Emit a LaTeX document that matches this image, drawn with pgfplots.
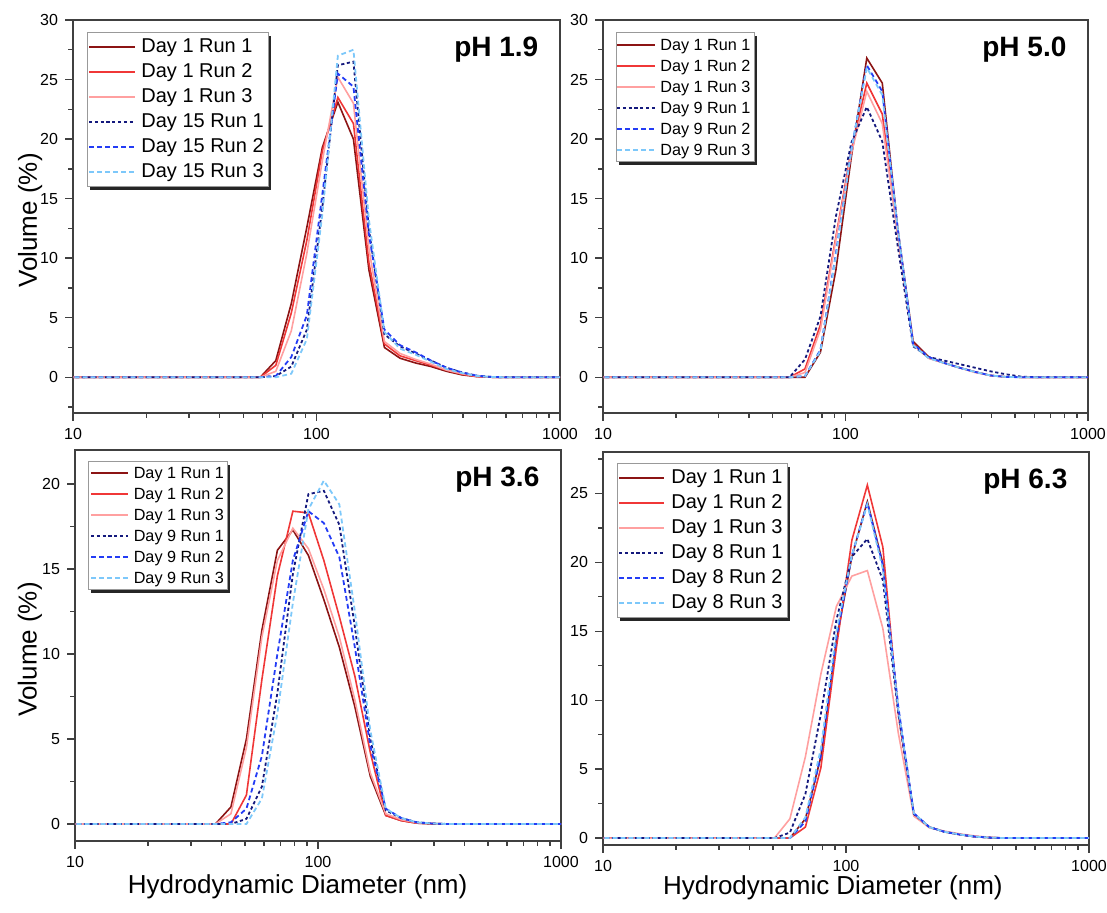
\documentclass[border=0pt]{standalone}
\usepackage{pgfplots}
\pgfplotsset{compat=1.18}
\usepackage{pgfplotstable}
\usepackage{fontspec}
\setmainfont{Liberation Sans}

\definecolor{dA}{RGB}{140,20,20}
\definecolor{dB}{RGB}{240,55,55}
\definecolor{dC}{RGB}{255,160,160}
\definecolor{bA}{RGB}{20,25,125}
\definecolor{bB}{RGB}{35,60,245}
\definecolor{bC}{RGB}{125,200,250}

% volume (%) per size bin (nm)
\pgfplotstableread{
d     a1   a2   a3   b1   b2   b3
8.721 0    0    0    0    0    0
10.10 0    0    0    0    0    0
13.54 0    0    0    0    0    0
18.17 0    0    0    0    0    0
24.36 0    0    0    0    0    0
32.67 0    0    0    0    0    0
43.82 0    0    0    0    0    0
50.75 0    0    0    0    0    0
58.77 0    0    0    0    0    0
68.06 1.4  1.0  0.5  0.1  0.1  0.0
78.82 6.2  5.4  3.9  0.9  1.7  0.3
91.28 12.6 11.5 10.4 4.0  5.2  3.2
105.7 19.3 19.0 18.2 14.3 15.4 13.7
122.4 23.1 23.5 25.2 26.2 25.5 27.0
141.8 20.0 21.3 23.0 26.5 24.4 27.5
164.2 9.0  9.6  10.8 12.4 12.0 13.2
190.1 2.5  2.8  3.0  3.6  4.0  3.8
220.2 1.6  1.8  2.0  2.6  2.7  2.4
255.0 1.2  1.4  1.5  2.0  2.1  1.9
295.3 0.9  1.0  1.1  1.4  1.4  1.3
342.0 0.5  0.6  0.6  0.8  0.8  0.7
396.1 0.2  0.25 0.3  0.4  0.4  0.35
458.7 0.05 0.05 0.08 0.12 0.12 0.1
531.2 0    0    0    0.02 0.02 0.02
615.1 0    0    0    0    0    0
825.0 0    0    0    0    0    0
1106  0    0    0    0    0    0
}\phA

\pgfplotstableread{
d     a1   a2   a3   b1   b2   b3
8.721 0    0    0    0    0    0
10.10 0    0    0    0    0    0
13.54 0    0    0    0    0    0
18.17 0    0    0    0    0    0
24.36 0    0    0    0    0    0
32.67 0    0    0    0    0    0
43.82 0    0    0    0    0    0
50.75 0    0    0    0    0    0
58.77 0    0    0    0    0    0
68.06 0    0.7  0.4  1.5  0.1  0.1
78.82 2.1  4.4  4.0  5.1  2.3  2.2
91.28 9.0  11.8 11.6 13.5 10.4 10.2
105.7 18.5 19.1 18.8 19.7 19.1 19.1
122.4 26.8 24.7 24.0 22.7 26.2 26.0
141.8 24.7 22.1 21.3 19.8 24.0 23.7
164.2 12.5 12.0 12.0 11.0 12.5 12.5
190.1 3.0  2.8  2.7  2.6  2.8  2.7
220.2 1.7  1.6  1.6  1.7  1.7  1.6
255.0 1.2  1.2  1.2  1.4  1.2  1.2
295.3 0.8  0.8  0.8  1.1  0.8  0.8
342.0 0.45 0.45 0.4  0.8  0.45 0.45
396.1 0.15 0.15 0.15 0.5  0.15 0.15
458.7 0.03 0.03 0.03 0.25 0.03 0.03
531.2 0    0    0    0.05 0    0
615.1 0    0    0    0    0    0
825.0 0    0    0    0    0    0
1106  0    0    0    0    0    0
}\phB

\pgfplotstableread{
d     a1   a2   a3   b1   b2   b3
8.721 0    0    0    0    0    0
10.10 0    0    0    0    0    0
13.54 0    0    0    0    0    0
18.17 0    0    0    0    0    0
24.36 0    0    0    0    0    0
32.67 0    0    0    0    0    0
37.84 0    0    0    0    0    0
43.82 1.0  0    0.6  0    0.1  0
50.75 5.0  1.7  4.5  0.3  0.9  0
58.77 11.4 8.5  11.0 2.2  4.0  1.5
68.06 16.1 14.6 15.5 7.7  10.0 6.5
78.82 17.3 18.4 17.4 14.7 15.5 13.0
91.28 15.8 18.3 16.2 19.4 18.4 18.5
105.7 13.2 15.5 13.8 19.6 17.7 20.2
122.4 10.4 12.2 11.0 17.6 15.7 18.8
141.8 6.9  8.7  7.3  11.6 10.4 12.5
164.2 2.8  4.2  3.0  5.0  4.6  5.5
190.1 0.5  0.5  0.6  0.8  0.9  0.9
220.2 0.2  0.2  0.25 0.35 0.35 0.35
255.0 0.05 0.05 0.08 0.1  0.1  0.1
295.3 0    0.03 0.02 0.03 0.03 0.03
342.0 0    0    0    0    0    0
458.7 0    0    0    0    0    0
615.1 0    0    0    0    0    0
825.0 0    0    0    0    0    0
1106  0    0    0    0    0    0
}\phC

\pgfplotstableread{
d     a1   a2   a3   b1   b2   b3
8.721 0    0    0    0    0    0
10.10 0    0    0    0    0    0
13.54 0    0    0    0    0    0
18.17 0    0    0    0    0    0
24.36 0    0    0    0    0    0
32.67 0    0    0    0    0    0
43.82 0    0    0    0    0    0
50.75 0    0    0    0    0    0
58.77 0    0    1.4  0.4  0    0
68.06 1.4  0.8  5.9  3.2  1.2  1.5
78.82 5.9  5.1  11.9 9.0  6.0  6.5
91.28 14.3 13.8 16.8 15.8 14.5 15.0
105.7 20.4 21.6 19.0 20.4 20.5 20.5
122.4 24.4 25.6 19.4 21.7 24.3 24.2
141.8 19.9 21.1 15.2 18.7 19.8 19.5
164.2 9.2  9.0  7.6  9.0  9.5  9.3
190.1 1.75 1.75 1.6  1.75 1.8  1.8
220.2 0.8  0.8  0.75 0.8  0.8  0.8
255.0 0.45 0.45 0.5  0.45 0.45 0.45
295.3 0.25 0.25 0.3  0.25 0.25 0.25
342.0 0.1  0.1  0.15 0.1  0.1  0.1
396.1 0.03 0.03 0.05 0.03 0.03 0.03
458.7 0    0    0    0    0    0
615.1 0    0    0    0    0    0
825.0 0    0    0    0    0    0
1106  0    0    0    0    0    0
}\phD

\tikzset{
  sA/.style={draw=dA, line width=0.8pt, solid},
  sB/.style={draw=dB, line width=0.8pt, solid},
  sC/.style={draw=dC, line width=0.8pt, solid},
  sD/.style={draw=bA, line width=0.9pt, dash pattern=on 1.6pt off 1.3pt},
  sE/.style={draw=bB, line width=0.9pt, dash pattern=on 2.4pt off 1.6pt},
  sF/.style={draw=bC, line width=0.9pt, dash pattern=on 2.4pt off 1.6pt},
}

% common look of the four panels
\pgfplotsset{
  every axis/.append style={
    scale only axis, anchor=south west,
    tick align=outside, xtick pos=bottom, ytick pos=left,
    axis line style={draw=black!75, line width=0.9pt},
    major tick length=4pt, minor tick length=2.5pt,
    tick style={draw=black!75, line width=0.7pt},
    tick label style={font=\fontsize{8}{9}\selectfont},
    xlabel style={font=\fontsize{13}{15}\selectfont, anchor=center},
    ylabel style={font=\fontsize{13}{15}\selectfont, anchor=center},
  },
}

\newcommand{\sixplots}[1]{%
  \addplot[sA] table[x=d,y=a1]{#1};
  \addplot[sB] table[x=d,y=a2]{#1};
  \addplot[sC] table[x=d,y=a3]{#1};
  \addplot[sD] table[x=d,y=b1]{#1};
  \addplot[sE] table[x=d,y=b2]{#1};
  \addplot[sF] table[x=d,y=b3]{#1};
}

% legend box: #1 left, #2 top, #3 right, #4 bottom, #5 line start, #6 line end,
% #7 text start, #8 first row, #9 row step (all in pt); \legday, \legfont set before
\newcommand{\mylegend}[9]{%
  \fill[black!85] ({#1pt+1.5pt},{#2pt-1.5pt}) rectangle ({#3pt+1.5pt},{#4pt-1.5pt});
  \filldraw[fill=white, draw=black!40, line width=0.5pt] (#1pt,#2pt) rectangle (#3pt,#4pt);
  \foreach \k/\lab in {0/{Day 1 Run 1},1/{Day 1 Run 2},2/{Day 1 Run 3},
      3/{Day \legday\ Run 1},4/{Day \legday\ Run 2},5/{Day \legday\ Run 3}}
    \node[anchor=mid west, inner sep=0pt, font=\legfont] at (#7pt,{#8pt-\k*#9pt}) {\lab};
  \draw[sA, line width=1pt] (#5pt,{#8pt}) -- (#6pt,{#8pt});
  \draw[sB, line width=1pt] (#5pt,{#8pt-#9pt}) -- (#6pt,{#8pt-#9pt});
  \draw[sC, line width=1pt] (#5pt,{#8pt-2*#9pt}) -- (#6pt,{#8pt-2*#9pt});
  \draw[sD, line width=1pt] (#5pt,{#8pt-3*#9pt}) -- (#6pt,{#8pt-3*#9pt});
  \draw[sE, line width=1pt] (#5pt,{#8pt-4*#9pt}) -- (#6pt,{#8pt-4*#9pt});
  \draw[sF, line width=1pt] (#5pt,{#8pt-5*#9pt}) -- (#6pt,{#8pt-5*#9pt});
}

\begin{document}
\begin{tikzpicture}
\path[use as bounding box] (0,0) rectangle (553.5pt,456.5pt);

% pH 1.9
\begin{axis}[at={(36.5pt,250pt)}, width=243.5pt, height=196.5pt,
  xmode=log, xmin=10, xmax=1000, xtick={10,100,1000}, xticklabels={10,100,1000},
  ymin=-3, ymax=30, ytick={0,5,...,30}, minor ytick={-2.5,2.5,...,27.5},
  /pgf/number format/assume math mode=true,
  ylabel={Volume (\%)}, ylabel style={at={(axis description cs:-0.088,0.49)}}]
\sixplots{\phA}
\node[anchor=east, font=\bfseries\fontsize{14}{14}\selectfont] at (rel axis cs:0.97,0.925) {pH 1.9};
\end{axis}

% pH 5.0
\begin{axis}[at={(301.5pt,250pt)}, width=242.5pt, height=196.5pt,
  xmode=log, xmin=10, xmax=1000, xtick={10,100,1000}, xticklabels={10,100,1000},
  ymin=-3, ymax=30, ytick={0,5,...,30}, minor ytick={-2.5,2.5,...,27.5},
  /pgf/number format/assume math mode=true]
\sixplots{\phB}
\node[anchor=east, font=\bfseries\fontsize{14}{14}\selectfont] at (rel axis cs:0.97,0.925) {pH 5.0};
\end{axis}

% pH 3.6
\begin{axis}[at={(37.5pt,36pt)}, width=243pt, height=195.5pt,
  xmode=log, xmin=10, xmax=1000, xtick={10,100,1000}, xticklabels={10,100,1000},
  ymin=-1, ymax=22, ytick={0,5,...,20}, minor ytick={2.5,7.5,...,17.5},
  /pgf/number format/assume math mode=true,
  ylabel={Volume (\%)}, ylabel style={at={(axis description cs:-0.093,0.49)}},
  xlabel={Hydrodynamic Diameter (nm)}, xlabel style={at={(axis description cs:0.458,-0.118)}}]
\sixplots{\phC}
\node[anchor=east, font=\bfseries\fontsize{14}{14}\selectfont] at (rel axis cs:0.97,0.925) {pH 3.6};
\end{axis}

% pH 6.3
\begin{axis}[at={(301.5pt,34pt)}, width=243pt, height=196.5pt,
  xmode=log, xmin=10, xmax=1000, xtick={10,100,1000}, xticklabels={10,100,1000},
  ymin=-0.5, ymax=28, ytick={0,5,...,25}, minor ytick={2.5,7.5,...,27.5},
  /pgf/number format/assume math mode=true,
  xlabel={Hydrodynamic Diameter (nm)}, xlabel style={at={(axis description cs:0.473,-0.11)}}]
\sixplots{\phD}
\node[anchor=east, font=\bfseries\fontsize{14}{14}\selectfont] at (rel axis cs:0.97,0.925) {pH 6.3};
\end{axis}

% legends
\def\legfont{\fontsize{10}{11}\selectfont}\def\legday{15}
\mylegend{43.5}{440}{134}{363}{44.5}{67.5}{70.5}{433}{12.5}
\def\legfont{\fontsize{8.1}{9}\selectfont}\def\legday{9}
\mylegend{308}{440}{377}{375.5}{308.5}{327.5}{330}{434}{10.5}
\mylegend{44}{225.5}{113.5}{161.5}{45.5}{64}{66.7}{220}{10.5}
\def\legfont{\fontsize{10}{11}\selectfont}\def\legday{8}
\mylegend{308.5}{224.5}{393.5}{147.5}{309.5}{332}{335.5}{217.5}{12.5}
\end{tikzpicture}
\end{document}
